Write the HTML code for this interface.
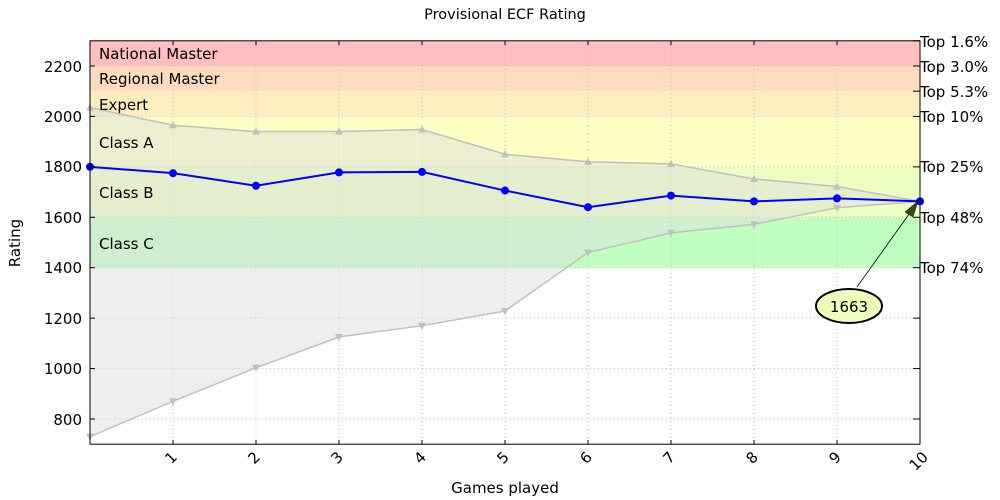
<!DOCTYPE html>
<html><head><meta charset="utf-8"><style>
body{margin:0;background:#fff}
svg{display:block;font-family:"DejaVu Sans","Liberation Sans",sans-serif}
</style></head><body>
<svg id="s" width="1000" height="500" xmlns="http://www.w3.org/2000/svg">
<text x="505" y="19" font-size="14.5" text-anchor="middle">Provisional ECF Rating</text>
<g id="bands"></g>
<g id="grid" stroke="#bbb" stroke-width="1" stroke-dasharray="1,3"></g>
<g id="series"></g>
<rect x="90" y="40.8" width="830" height="403.4" fill="none" stroke="#000" stroke-width="1"/>
<g id="ticks" stroke="#000"></g>
<g font-size="15">
<text x="99" y="59">National Master</text>
<text x="99" y="84">Regional Master</text>
<text x="99" y="110">Expert</text>
<text x="99" y="148">Class A</text>
<text x="99" y="198">Class B</text>
<text x="99" y="249">Class C</text>
</g>
<g font-size="15" text-anchor="end">
<text x="82" y="72">2200</text><text x="82" y="122">2000</text><text x="82" y="172">1800</text>
<text x="82" y="223">1600</text><text x="82" y="273">1400</text><text x="82" y="324">1200</text>
<text x="82" y="374">1000</text><text x="82" y="425">800</text>
</g>
<g font-size="15">
<text x="920" y="47">Top 1.6%</text><text x="920" y="72">Top 3.0%</text><text x="920" y="97">Top 5.3%</text>
<text x="920" y="122">Top 10%</text><text x="920" y="172">Top 25%</text><text x="920" y="223">Top 48%</text>
<text x="920" y="273">Top 74%</text>
</g>
<g font-size="15" text-anchor="end">
<text transform="translate(178,458) rotate(-45)">1</text>
<text transform="translate(261,458) rotate(-45)">2</text>
<text transform="translate(344,458) rotate(-45)">3</text>
<text transform="translate(427,458) rotate(-45)">4</text>
<text transform="translate(510,458) rotate(-45)">5</text>
<text transform="translate(593,458) rotate(-45)">6</text>
<text transform="translate(676,458) rotate(-45)">7</text>
<text transform="translate(759,458) rotate(-45)">8</text>
<text transform="translate(842,458) rotate(-45)">9</text>
<text transform="translate(929,458) rotate(-45)">10</text>
</g>
<text x="505" y="493" font-size="15" text-anchor="middle">Games played</text>
<text transform="translate(20,243) rotate(-90)" font-size="15" text-anchor="middle">Rating</text>
<line x1="857" y1="287" x2="912" y2="210" stroke="#000" stroke-width="0.8"/>
<polygon points="918,201 905,212 913,217" fill="#3a4a10" stroke="#000" stroke-width="0.5"/>
<ellipse cx="849" cy="306" rx="33" ry="17" fill="#eeffbb" stroke="#000" stroke-width="2"/>
<text x="849" y="312" font-size="15" text-anchor="middle">1663</text>
</svg>
<script>
const X=i=>90+83*i, Y=v=>444.2-(v-700)*0.25214;
const ns="http://www.w3.org/2000/svg";
function el(p,t,a){const e=document.createElementNS(ns,t);for(const k in a)e.setAttribute(k,a[k]);document.getElementById(p).appendChild(e);return e;}
[[2200,2300,"#ffbfbf"],[2100,2200,"#ffdcbf"],[2000,2100,"#ffedbf"],[1800,2000,"#ffffc4"],[1600,1800,"#edffc0"],[1400,1600,"#bfffbf"]].forEach(b=>el("bands","rect",{x:90,y:Y(b[1]),width:830,height:Y(b[0])-Y(b[1]),fill:b[2]}));
for(let i=1;i<10;i++)el("grid","line",{x1:X(i),x2:X(i),y1:41,y2:444});
for(let v=800;v<=2200;v+=200)el("grid","line",{x1:90,x2:920,y1:Y(v),y2:Y(v)});
const b=[1800,1775,1725,1778,1780,1706,1640,1686,1663,1675,1663];
const u=[2035,1965,1940,1940,1948,1850,1820,1812,1752,1722,1663];
const l=[730,870,1003,1125,1170,1228,1460,1538,1572,1638,1663];
const pts=a=>a.map((v,i)=>X(i)+","+Y(v)).join(" ");
el("series","polygon",{points:pts(u)+" "+l.map((v,i)=>[X(i),Y(v)]).reverse().map(p=>p.join(",")).join(" "),fill:"#dddddd","fill-opacity":0.5,stroke:"none"});
el("series","polyline",{points:pts(u),fill:"none",stroke:"#c0c0c0","stroke-width":1.5});
el("series","polyline",{points:pts(l),fill:"none",stroke:"#c0c0c0","stroke-width":1.5});
u.forEach((v,i)=>{const x=X(i),y=Y(v);el("series","polygon",{points:`${x-4},${y+3} ${x+4},${y+3} ${x},${y-4}`,fill:"#c0c0c0"});});
l.forEach((v,i)=>{const x=X(i),y=Y(v);el("series","polygon",{points:`${x-4},${y-3} ${x+4},${y-3} ${x},${y+4}`,fill:"#c0c0c0"});});
el("series","polyline",{points:pts(b),fill:"none",stroke:"#0000ff","stroke-width":2});
b.forEach((v,i)=>el("series","circle",{cx:X(i),cy:Y(v),r:4,fill:"#0000ff"}));
for(let i=1;i<10;i++){el("ticks","line",{x1:X(i),x2:X(i),y1:41,y2:45});el("ticks","line",{x1:X(i),x2:X(i),y1:444,y2:440});}
for(let v=800;v<=2200;v+=200)el("ticks","line",{x1:90,x2:95,y1:Y(v),y2:Y(v)});
[800,1000,1200,1400,1600,1800,2000,2100,2200,2300].forEach(v=>el("ticks","line",{x1:913,x2:920,y1:Y(v),y2:Y(v)}));
</script>
</body></html>
